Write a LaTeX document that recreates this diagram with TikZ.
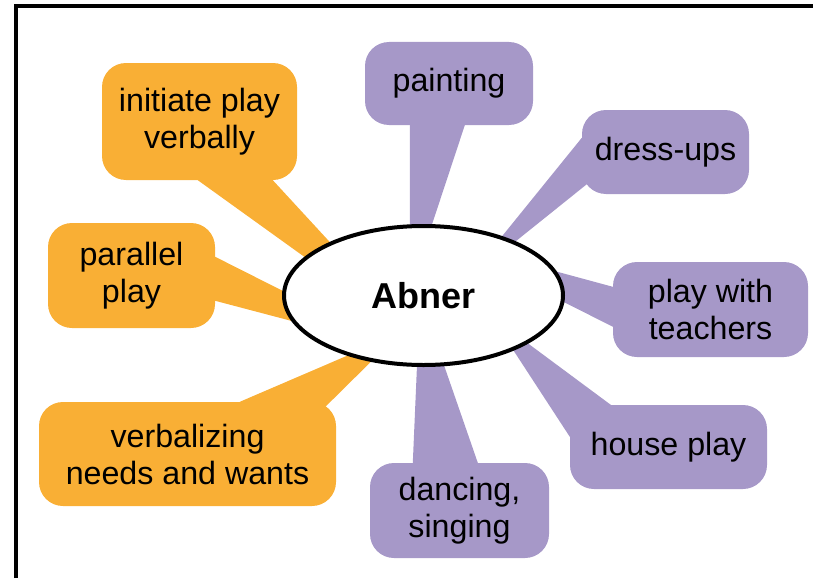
\documentclass[tikz,border=0pt]{standalone}
\usepackage{fontspec}
\setmainfont{Liberation Sans}
\usetikzlibrary{calc,shapes.geometric}
\definecolor{calloutorange}{HTML}{F9AF35}
\definecolor{calloutpurple}{HTML}{A698C8}

\begin{document}
\begin{tikzpicture}[x=1pt, y=-1pt,
    bubble/.style={rounded corners=24pt, inner sep=0pt, align=center,
        font=\fontsize{32.2}{37}\selectfont},
    orangebubble/.style={bubble, fill=calloutorange},
    purplebubble/.style={bubble, fill=calloutpurple}]
    \useasboundingbox (0,0) rectangle (813,578);

    % Frame
    \draw[line width=4pt] (15.5,578) -- (15.5,6) -- (813,6);

    % Orange bubbles
    \node[orangebubble, minimum width=195pt, minimum height=117pt] (init) at (199.5,121.5) {initiate play\\verbally};
    \node[orangebubble, minimum width=167pt, minimum height=105pt] (par) at (131.5,275.5) {parallel\\play};
    \node[orangebubble, minimum width=297pt, minimum height=104pt] (verb) at (187.5,454) {verbalizing\\needs and wants};

    % Purple bubbles
    \node[purplebubble, minimum width=168pt, minimum height=83pt] (paint) at (449,83.5) {painting};
    \node[purplebubble, minimum width=167pt, minimum height=84pt] (dress) at (665.5,152) {dress-ups};
    \node[purplebubble, minimum width=195pt, minimum height=95pt] (teach) at (710.5,309.5) {play with\\teachers};
    \node[purplebubble, minimum width=197pt, minimum height=84pt] (house) at (668.5,447) {house play};
    \node[purplebubble, minimum width=179pt, minimum height=95pt] (dance) at (459.5,510.5) {dancing,\\singing};

    % Tips (hidden under the ellipse)
    \coordinate (tinit) at (420,340);
    \coordinate (tpar) at (398,349);
    \coordinate (tverb) at (400,333);
    \coordinate (tpaint) at (410,291);
    \coordinate (tdress) at (465,282);
    \coordinate (tteach) at (440,240);
    \coordinate (thouse) at (491,316);
    \coordinate (tdance) at (420,296);

    % Pointers
    \fill[calloutorange] ($(init.south west)+(96,0)$) -- ($(init.south west)+(171,0)$) -- (tinit) -- cycle;
    \fill[calloutorange] ($(par.north east)+(0,34)$) -- ($(par.north east)+(0,78)$) -- (tpar) -- cycle;
    \fill[calloutorange] ($(verb.north west)+(201,0)$) -- ($(verb.north east)+(-24,18)$) -- (tverb) -- cycle;
    \fill[calloutpurple] ($(paint.south west)+(45,0)$) -- ($(paint.south west)+(100,0)$) -- (tpaint) -- cycle;
    \fill[calloutpurple] ($(dress.north west)+(0,28)$) -- ($(dress.south west)+(10,-14)$) -- (tdress) -- cycle;
    \fill[calloutpurple] ($(teach.north west)+(0,25)$) -- ($(teach.south west)+(7,-27)$) -- (tteach) -- cycle;
    \fill[calloutpurple] ($(house.north west)+(45,3)$) -- ($(house.north west)+(0,32)$) -- (thouse) -- cycle;
    \fill[calloutpurple] ($(dance.north west)+(43,0)$) -- ($(dance.north west)+(108,0)$) -- (tdance) -- cycle;

    % Centre
    \node[ellipse, draw, line width=4pt, fill=white, inner sep=0pt,
        minimum width=279pt, minimum height=139pt, font=\fontsize{36}{40}\selectfont\bfseries] (abner) at (423.5,295.5) {Abner};
\end{tikzpicture}
\end{document}
